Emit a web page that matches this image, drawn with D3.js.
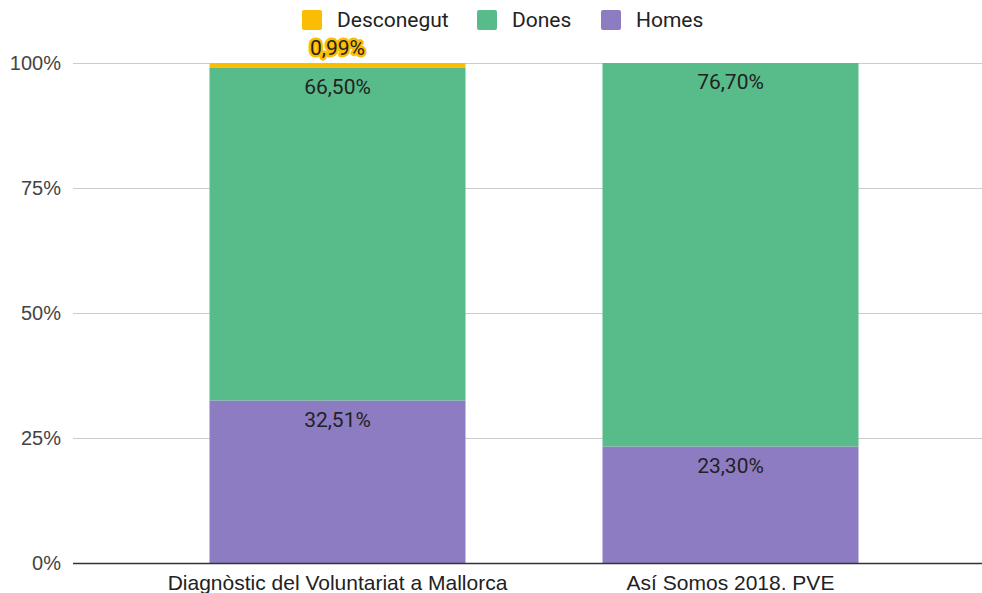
<!DOCTYPE html>
<html><head><meta charset="utf-8">
<script src="https://cdn.jsdelivr.net/npm/d3@7"></script>
<style>body{margin:0;background:#fff}svg{display:block}</style>
</head><body>
<svg id="c" width="982" height="593"></svg>
<script>
const categories = ["Diagnòstic del Voluntariat a Mallorca", "Así Somos 2018. PVE"];
const seriesNames = ["Homes", "Dones", "Desconegut"];
const homes = [32.51, 23.30];
const dones = [66.50, 76.70];
const desconegut = [0.99, 0];
const labelsHomes = ["32,51%", "23,30%"];
const labelsDones = ["66,50%", "76,70%"];
const labelsDesc = ["0,99%", null];
const yTicks = [0, 25, 50, 75, 100];
const yTickLabels = ["0%", "25%", "50%", "75%", "100%"];
const legendOrder = ["Desconegut", "Dones", "Homes"];
const colors = {Homes: "#8e7cc3", Dones: "#57bb8a", Desconegut: "#fbbc04"};

const svg = d3.select("#c");
const y = d3.scaleLinear().domain([0, 100]).range([563, 63]);
const x = d3.scaleBand().domain(categories).range([141, 927]).paddingInner(0.3486).paddingOuter(0.1743);
const gridX0 = 73, gridX1 = 982;

// gridlines
svg.append("g").selectAll("line").data(yTicks.filter(d => d > 0)).join("line")
  .attr("x1", gridX0).attr("x2", gridX1)
  .attr("y1", d => y(d) + 0.5).attr("y2", d => y(d) + 0.5)
  .attr("stroke", "#cccccc").attr("stroke-width", 1);

// y tick labels
svg.append("g").selectAll("text").data(yTicks).join("text")
  .attr("x", 61).attr("y", d => y(d)).attr("dy", "0.35em")
  .attr("text-anchor", "end").attr("fill", "#444")
  .style("font-family", "Arial, 'Liberation Sans', sans-serif").style("font-size", "20px")
  .text((d, i) => yTickLabels[i]);

const data = categories.map((c, i) => ({cat: c, Homes: homes[i], Dones: dones[i], Desconegut: desconegut[i]}));
const stacked = d3.stack().keys(seriesNames)(data);

svg.append("g").selectAll("g").data(stacked).join("g")
  .attr("fill", s => colors[s.key])
  .selectAll("rect").data(s => s).join("rect")
  .attr("x", d => x(d.data.cat)).attr("width", x.bandwidth())
  .attr("y", d => y(d[1])).attr("height", d => y(d[0]) - y(d[1]));

// baseline
svg.append("line").attr("x1", gridX0).attr("x2", gridX1)
  .attr("y1", y(0) + 0.5).attr("y2", y(0) + 0.5)
  .attr("stroke", "#333").attr("stroke-width", 1.5);

// data labels
const lblFont = "Roboto, Arial, sans-serif";
const lbl = svg.append("g").style("font-family", lblFont).style("font-size", "21px").attr("text-anchor", "middle");
stacked[0].forEach((d, i) => {
  lbl.append("text").attr("x", x(d.data.cat) + x.bandwidth() / 2).attr("y", y(d[1]) + 19).attr("dy", "0.35em")
    .attr("fill", "#222").text(labelsHomes[i]);
});
stacked[1].forEach((d, i) => {
  lbl.append("text").attr("x", x(d.data.cat) + x.bandwidth() / 2).attr("y", y(d[1]) + 19).attr("dy", "0.35em")
    .attr("fill", "#222").text(labelsDones[i]);
});
stacked[2].forEach((d, i) => {
  if (!labelsDesc[i]) return;
  const cx = x(d.data.cat) + x.bandwidth() / 2, cy = y(d[1]) - 15;
  lbl.append("text").attr("x", cx).attr("y", cy).attr("dy", "0.35em")
    .attr("fill", "none").attr("stroke", colors.Desconegut).attr("stroke-width", 5).attr("stroke-linejoin", "round")
    .text(labelsDesc[i]);
  lbl.append("text").attr("x", cx).attr("y", cy).attr("dy", "0.35em")
    .attr("fill", "#222").text(labelsDesc[i]);
});

// x axis labels
svg.append("g").selectAll("text").data(categories).join("text")
  .attr("x", d => x(d) + x.bandwidth() / 2).attr("y", 583).attr("dy", "0.35em")
  .attr("text-anchor", "middle").attr("fill", "#222")
  .style("font-family", "Arial, 'Liberation Sans', sans-serif").style("font-size", "21px")
  .text(d => d);

// legend
const legX = [302, 477, 601];
const leg = svg.append("g").selectAll("g").data(legendOrder).join("g")
  .attr("transform", (d, i) => `translate(${legX[i]},10)`);
leg.append("rect").attr("width", 20).attr("height", 20).attr("rx", 2).attr("fill", d => colors[d]);
leg.append("text").attr("x", 35).attr("y", 10).attr("dy", "0.35em").attr("fill", "#222")
  .style("font-family", "Roboto, Arial, sans-serif").style("font-size", "21px").text(d => d);
</script>
</body></html>
